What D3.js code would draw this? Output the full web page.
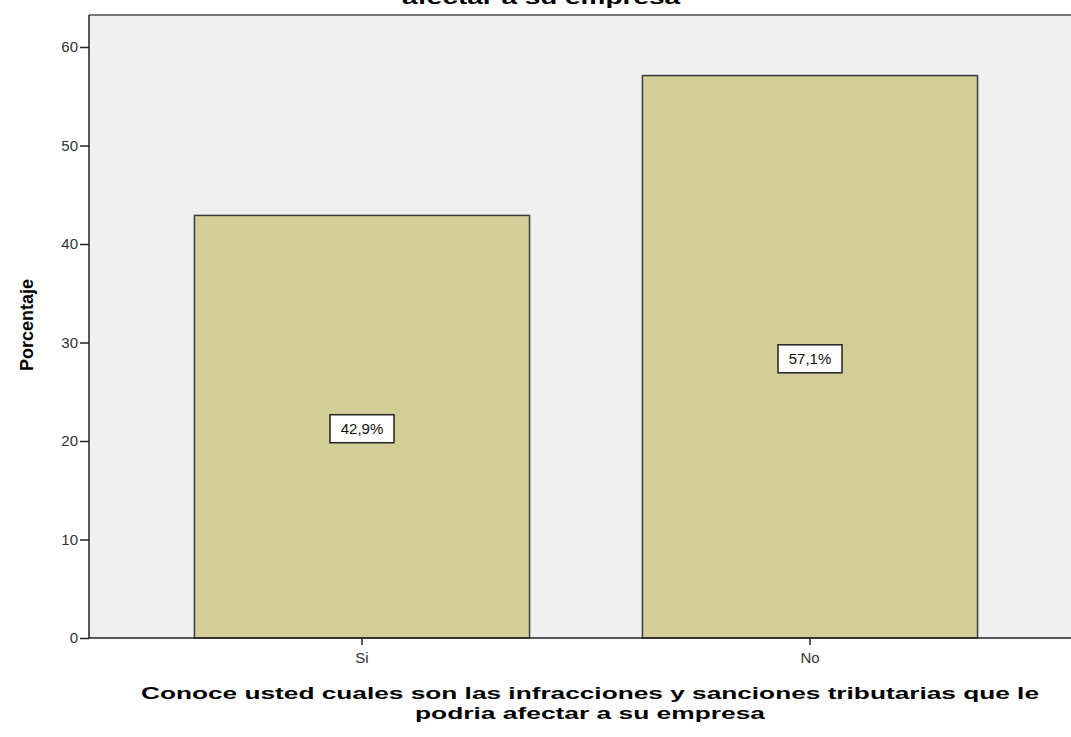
<!DOCTYPE html>
<html>
<head>
<meta charset="utf-8">
<script src="https://cdn.jsdelivr.net/npm/d3@7"></script>
<style>
  html, body { margin: 0; padding: 0; background: #fff; }
  svg { display: block; }
  text { font-family: Arial, "Liberation Sans", sans-serif; }
</style>
</head>
<body>
<svg id="chart" width="1071" height="737"></svg>
<script>
const categories = ["Si", "No"];
const values = [42.9, 57.1];
const valueLabels = ["42,9%", "57,1%"];
const yTicks = [0, 10, 20, 30, 40, 50, 60];
const titleLine = "afectar a su empresa";
const xTitleLines = ["Conoce usted cuales son las infracciones y sanciones tributarias que le", "podria afectar a su empresa"];
const yTitle = "Porcentaje";

const svg = d3.select("#chart");
const plot = { left: 89, top: 15, right: 1083, bottom: 638 };

const x = d3.scaleBand().domain(categories)
  .range([plot.left + 49, plot.right - 49])
  .paddingInner(0.252).paddingOuter(0.126);
const y = d3.scaleLinear().domain([0, 60]).range([plot.bottom, plot.bottom - 591]);

svg.append("rect")
  .attr("x", plot.left).attr("y", plot.top)
  .attr("width", plot.right - plot.left).attr("height", plot.bottom - plot.top)
  .attr("fill", "#f0f0f0");

svg.append("line")
  .attr("x1", plot.left).attr("x2", plot.right)
  .attr("y1", plot.top).attr("y2", plot.top)
  .attr("stroke", "#777").attr("stroke-width", 2);

svg.selectAll("rect.bar").data(categories).join("rect")
  .attr("class", "bar")
  .attr("x", d => x(d))
  .attr("y", (d, i) => y(values[i]))
  .attr("width", x.bandwidth())
  .attr("height", (d, i) => y(0) - y(values[i]))
  .attr("fill", "#d3ce97")
  .attr("stroke", "#3a3a3a")
  .attr("stroke-width", 1.5);

const yAxis = d3.axisLeft(y).tickValues(yTicks).tickSize(9).tickPadding(2).tickFormat(d3.format("d"));
const gy = svg.append("g").attr("transform", `translate(${plot.left},0)`).call(yAxis);
gy.select(".domain").attr("stroke", "#222").attr("stroke-width", 1.5)
  .attr("d", `M0,${plot.top}V${plot.bottom}`);
gy.selectAll(".tick line").attr("stroke", "#222").attr("stroke-width", 1.5);
gy.selectAll(".tick text").attr("font-size", 15).attr("fill", "#333")
  .style("font-family", "Arial, 'Liberation Sans', sans-serif");

const xAxis = d3.axisBottom(x).tickSize(7).tickPadding(7);
const gx = svg.append("g").attr("transform", `translate(0,${plot.bottom})`).call(xAxis);
gx.select(".domain").attr("stroke", "#222").attr("stroke-width", 1.5)
  .attr("d", `M${plot.left},0H${plot.right}`);
gx.selectAll(".tick line").attr("stroke", "#222").attr("stroke-width", 1.5);
gx.selectAll(".tick text").attr("font-size", 15).attr("fill", "#333")
  .style("font-family", "Arial, 'Liberation Sans', sans-serif");

const lab = svg.selectAll("g.lab").data(categories).join("g")
  .attr("class", "lab")
  .attr("transform", (d, i) => `translate(${x(d) + x.bandwidth() / 2},${(y(values[i]) + y(0)) / 2 + 2})`);
lab.append("rect")
  .attr("x", -32).attr("y", -14).attr("width", 64).attr("height", 28)
  .attr("fill", "#fff").attr("stroke", "#222").attr("stroke-width", 1.5);
lab.append("text")
  .attr("text-anchor", "middle").attr("dy", "0.36em")
  .attr("font-size", 15).attr("fill", "#111")
  .text((d, i) => valueLabels[i]);

svg.append("text")
  .attr("x", 541).attr("y", 4)
  .attr("text-anchor", "middle")
  .attr("font-size", 18).attr("font-weight", "bold")
  .attr("font-family", "'DejaVu Sans', sans-serif")
  .attr("textLength", 278).attr("lengthAdjust", "spacingAndGlyphs")
  .text(titleLine);

const xt = svg.append("text")
  .attr("text-anchor", "middle")
  .attr("font-size", 17).attr("font-weight", "bold")
  .attr("font-family", "'DejaVu Sans', sans-serif")
  .attr("fill", "#000");
xt.append("tspan").attr("x", 590).attr("y", 699)
  .attr("textLength", 898).attr("lengthAdjust", "spacingAndGlyphs")
  .text(xTitleLines[0]);
xt.append("tspan").attr("x", 590).attr("y", 719)
  .attr("textLength", 350).attr("lengthAdjust", "spacingAndGlyphs")
  .text(xTitleLines[1]);

svg.append("text")
  .attr("transform", "translate(33,325) rotate(-90)")
  .attr("text-anchor", "middle")
  .attr("font-size", 18).attr("font-weight", "bold")
  .attr("font-family", "'DejaVu Sans', sans-serif")
  .text(yTitle);
</script>
</body>
</html>
